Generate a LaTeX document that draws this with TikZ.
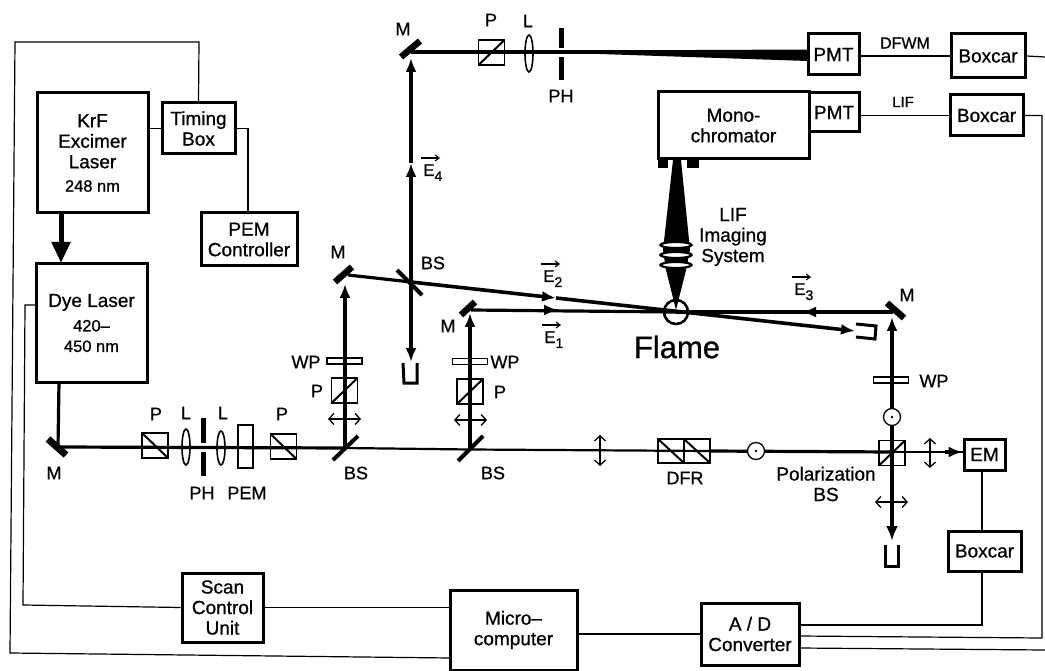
\documentclass[tikz,border=0pt]{standalone}
\usepackage{fontspec}
\setmainfont{Liberation Sans}[FakeBold=0.8]
\usepackage{tikz}
\usetikzlibrary{arrows.meta, positioning, shapes.geometric}
\newcommand{\lblsize}{\fontsize{18}{20}\selectfont}
\newcommand{\boxsize}{\fontsize{19}{20.5}\selectfont}

\begin{document}
\begin{tikzpicture}[x=1pt, y=-1pt,
  instr/.style={rectangle, draw, line width=3pt, align=center, inner sep=0pt, font=\boxsize},
  lbl/.style={inner sep=0pt, align=center, font=\lblsize},
  sig/.style={line width=1.2pt},
  beam/.style={line width=3.2pt},
  thinbeam/.style={line width=2.2pt},
  head/.style={-{Latex[length=14pt, width=11pt]}},
  mirror/.style={line width=6.5pt},
  splitter/.style={line width=4pt},
  poldown/.style={rectangle, draw, line width=1.8pt, minimum width=26pt, minimum height=25pt, inner sep=0pt,
    path picture={\draw[line width=2pt] (path picture bounding box.north west) -- (path picture bounding box.south east);}},
  polup/.style={rectangle, draw, line width=1.8pt, minimum width=26pt, minimum height=25pt, inner sep=0pt,
    path picture={\draw[line width=2pt] (path picture bounding box.south west) -- (path picture bounding box.north east);}},
  lens/.style={ellipse, draw, line width=1.6pt, minimum width=8pt, minimum height=36pt, inner sep=0pt},
  plate/.style={rectangle, draw, line width=1.5pt, minimum width=35pt, minimum height=6pt, inner sep=0pt},
  pinbar/.style={line width=5pt},
  dotring/.style={circle, draw, fill=white, line width=1.3pt, minimum size=17pt, inner sep=0pt,
    path picture={\fill[black] (path picture bounding box.center) circle (1.3pt);}},
  dump/.style={line width=3pt},
  waveV/.style={{Straight Barb[length=5pt, width=11pt]}-{Straight Barb[length=5pt, width=11pt]}, line width=1.3pt},
  evec/.style={anchor=base west, inner sep=0pt, font=\fontsize{17}{19}\selectfont},
  vecarrow/.style={-{Straight Barb[length=4pt, width=6pt]}, line width=1.1pt},
]
\useasboundingbox (0,0) rectangle (1045,671);

% Instruments
\node[instr, minimum width=111pt, minimum height=120pt] (krf) at (92.5,153)
  {KrF\\Excimer\\Laser\\[3pt]{\fontsize{16.5}{18}\selectfont 248 nm}};
\node[instr, minimum width=73pt, minimum height=51pt] (timing) at (198.5,128.5) {Timing\\Box};
\node[instr, minimum width=96pt, minimum height=53pt] (pemctrl) at (249,239.5) {PEM\\Controller};
\node[instr, minimum width=111pt, minimum height=118pt] (dye) at (91.5,323)
  {Dye Laser\\[4pt]{\fontsize{16.5}{18}\selectfont 420--}\\{\fontsize{16.5}{18}\selectfont 450 nm}};
\node[instr, minimum width=51pt, minimum height=41pt] (pmta) at (833.5,54.5) {PMT};
\node[instr, minimum width=74pt, minimum height=44pt] (boxa) at (988,56) {Boxcar};
\node[instr, minimum width=151pt, minimum height=67pt] (mono) at (733.5,125.5) {Mono-\\chromator};
\node[instr, minimum width=50pt, minimum height=39pt] (pmtb) at (834,112.5) {PMT};
\node[instr, minimum width=73pt, minimum height=41pt] (boxb) at (986.5,115.5) {Boxcar};
\node[instr, minimum width=41pt, minimum height=31pt] (em) at (984.5,454.5) {EM};
\node[instr, minimum width=73pt, minimum height=40pt] (boxc) at (984.5,551) {Boxcar};
\node[instr, minimum width=81pt, minimum height=69pt] (scan) at (222.5,607.5) {Scan\\Control\\Unit};
\node[instr, minimum width=127pt, minimum height=80pt] (micro) at (513.5,630) {Micro--\\computer};
\node[instr, minimum width=98pt, minimum height=62pt] (adc) at (750,634) {A / D\\Converter};

% Signal lines
\coordinate (dyein) at (36,305);
\coordinate (microin) at (450,658);
\coordinate (adca) at (799,625);
\coordinate (adcb) at (799,636);
\coordinate (adcc) at (799,648);
\coordinate (edgea) at (1045,57);
\coordinate (edgec) at (1045,650);
\draw[sig] (krf.east |- timing.west) -- (timing.west);
\draw[sig] (timing.north) -- (199,42) -- (15,42) -- (10,653) -- (microin);
\draw[sig] (timing.east) -- (248,128.5) -- (pemctrl.north -| 248,0);
\draw[sig] (scan.west) -- (23,605) -- (25,305) -- (dyein);
\draw[sig] (scan.east) -- (micro.west |- scan.east);
\draw[sig] (micro.east |- adc.west) -- (adc.west);
\draw[sig] (pmta.east |- boxa.west) -- (boxa.west);
\draw[sig] (pmtb.east |- boxb.west) -- (boxb.west);
\draw[sig] (boxa.east) -- (edgea);
\draw[sig] (boxb.east) -- (1042,115.5) -- (1042,638) -- (adcb);
\draw[sig] (em.south -| 982,0) -- (boxc.north -| 982,0);
\draw[sig] (boxc.south -| 982,0) -- (982,625) -- (adca);
\draw[sig] (adcc) -- (edgec);

% Pump laser
\draw[line width=5pt, -{Triangle[length=21pt, width=18pt]}] (61,213) -- (61,263);

% Beam points
\coordinate (mleft) at (58,447);
\coordinate (bsa) at (345,448);
\coordinate (bsb) at (470,449.5);
\coordinate (dfrout) at (710,451);
\coordinate (bsc) at (892,452);
\coordinate (mmid) at (348,275);
\coordinate (msplit) at (411,282);
\coordinate (mtop) at (411,52);
\coordinate (mlow) at (471,310);
\coordinate (flame) at (676,312);
\coordinate (mright) at (893,312);
\coordinate (etwo) at (556,298);
\coordinate (eone) at (558,310);
\coordinate (ethree) at (802,312);
\coordinate (efour) at (411,163);
\coordinate (dumpend) at (855,331);

% Beams
\draw[beam] (59,382) -- (mleft) -- (bsa);
\draw[thinbeam] (bsa) -- (bsb) -- (dfrout);
\draw[beam] (dfrout) -- (bsc);
\draw[thinbeam] (bsc) -- (em.west |- bsc);
\draw[beam, -{Latex[length=14pt, width=11pt]}] (945,452) -- (em.west |- bsc);
\draw[beam, head] (bsa) -- (345,284);
\draw[beam, head] (bsb) -- (470,313);
\draw[beam] (mmid) -- (msplit);
\draw[line width=3.6pt, head] (msplit) -- (etwo);
\draw[line width=3.6pt, head] (etwo) -- (dumpend);
\draw[beam] (mlow) -- (flame);
\draw[thinbeam, head] (mlow) -- (eone);
\draw[beam, head] (msplit) -- (efour);
\draw[beam, head] (efour) -- (411,58);
\draw[beam, head] (msplit) -- (411,362);
\draw[beam] (mtop) -- (pmta.west |- mtop);
\fill (585,50.5) -- (808,49.5) -- (808,61) -- (585,53.5) -- cycle;
\draw[line width=3.6pt] (mright) -- (flame);
\draw[line width=3.6pt, head] (mright) -- (ethree);
\draw[beam, head] (bsc) -- (892,317);
\draw[line width=3.8pt, -{Latex[length=15pt, width=12pt]}] (bsc) -- (892,541);

% Imaging cone and lenses
\fill (673,160) -- (681,160) -- (690,250) -- (686,270) -- (676,310) -- (666,270) -- (663,250) -- cycle;
\foreach \ly in {245,255,265} {
  \node[ellipse, draw, line width=2.2pt, fill=white, minimum width=31pt, minimum height=6pt, inner sep=0pt] (lens\ly) at (676,\ly) {};
}
\fill (658,159) rectangle (668,168);
\fill (687,159) rectangle (699,168);
\node[circle, draw, line width=2.6pt, minimum size=24pt, inner sep=0pt] (flamering) at (676,312) {};

% Mirrors and splitters
\draw[mirror, line width=7pt] (48,439) -- (66,455);
\draw[mirror] (335,282) -- (352,267);
\draw[mirror] (401,57) -- (420,41);
\draw[mirror] (461,315) -- (475,302);
\draw[mirror] (887,303) -- (904,318);
\draw[splitter] (333,460) -- (358,436);
\draw[splitter] (458,461) -- (483,436);
\draw[splitter] (397,270) -- (422,295);

% Optics
\node[poldown] (pa) at (155,445.5) {};
\node[lens] (la) at (186,447) {};
\node[lens, minimum height=34pt] (lb) at (221,448) {};
\node[rectangle, draw, line width=1.5pt, minimum width=15pt, minimum height=43pt, inner sep=0pt] (pem) at (245.5,446.5) {};
\node[poldown] (pb) at (283.5,446.5) {};
\node[polup] (pc) at (344.5,390.5) {};
\node[polup] (pd) at (470,391.5) {};
\node[polup] (pe) at (491.5,52.5) {};
\node[polup, line width=1.5pt] (pf) at (892,453) {};
\node[lens, minimum height=37pt] (lc) at (529,53.5) {};
\node[plate] (wpa) at (344.5,361) {};
\node[plate] (wpb) at (470,361.5) {};
\node[plate] (wpc) at (891,380) {};
\node[poldown, minimum width=26pt, minimum height=24pt] (dfra) at (671,451) {};
\node[poldown, minimum width=26pt, minimum height=24pt] (dfrb) at (697,451) {};
\node[dotring] (rga) at (756,451) {};
\node[dotring] (rgb) at (892,417) {};
\draw[pinbar] (203.5,418) -- (203.5,443);
\draw[pinbar] (203.5,452) -- (203.5,476);
\draw[pinbar] (561.5,28) -- (561.5,48);
\draw[pinbar] (561.5,57) -- (561.5,80);

% Polarization marks
\draw[waveV] (328,419) -- (361,419);
\draw[waveV] (454,420) -- (487,420);
\draw[waveV] (875,502) -- (908,502);
\draw[waveV] (600,435) -- (600,466);
\draw[waveV] (930,438) -- (930,468);

% Beam dumps
\draw[dump] (403,363) -- (404,383) -- (417,383) -- (417,363);
\draw[dump] (885,545) -- (885,566) -- (898,566) -- (898,545);
\draw[dump] (856,324) -- (876,326) -- (875,339) -- (856,337);

% Labels
\node[lbl] (tm1) at (54,473) {M};
\node[lbl] (tm2) at (338,252) {M};
\node[lbl] (tm3) at (403,29) {M};
\node[lbl] (tm4) at (448,326) {M};
\node[lbl] (tm5) at (907,295) {M};
\node[lbl] (tp1) at (156,414) {P};
\node[lbl] (tl1) at (186,413) {L};
\node[lbl] (tl2) at (223,413) {L};
\node[lbl] (tp2) at (282,414) {P};
\node[lbl] (tph1) at (202,493) {PH};
\node[lbl] (tpem) at (247,493) {PEM};
\node[lbl] (tbs1) at (356,473) {BS};
\node[lbl] (tbs2) at (493,473) {BS};
\node[lbl] (tbs3) at (433,263) {BS};
\node[lbl] (twp1) at (306,362) {WP};
\node[lbl] (tp3) at (317,391) {P};
\node[lbl] (twp2) at (505,362) {WP};
\node[lbl] (tp4) at (500,392) {P};
\node[lbl] (twp3) at (934,381) {WP};
\node[lbl] (tp5) at (491,20) {P};
\node[lbl] (tl3) at (528,21) {L};
\node[lbl] (tph2) at (561,96) {PH};
\node[lbl] (tdfr) at (685,478) {DFR};
\node[lbl, font=\boxsize] (tpol) at (826,484) {Polarization\\BS};
\node[lbl, font=\boxsize] (tlif) at (733,237) {LIF\\Imaging\\System};
\node[lbl, font=\fontsize{16}{18}\selectfont] (tdfwm) at (905,43) {DFWM};
\node[lbl, font=\fontsize{15}{17}\selectfont] (tliff) at (903,102) {LIF};
\node[lbl, font=\fontsize{31}{33}\selectfont] (tflame) at (677,347) {Flame};

% Field vectors
\foreach \en/\ex/\eb/\es in {te1/544/343/1, te2/543/282/2, te3/794/295/3, te4/423/176/4} {
  \node[evec] (\en) at (\ex,\eb) {E\raisebox{-5pt}{\fontsize{14}{14}\selectfont\es}};
  \draw[vecarrow] (\ex-2,\eb-18) -- (\ex+17,\eb-18);
}
\end{tikzpicture}
\end{document}
